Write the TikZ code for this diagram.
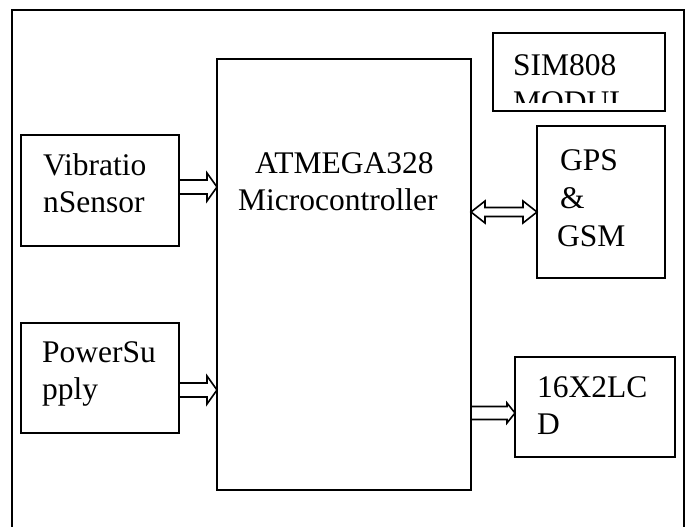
\documentclass[tikz,border=0pt]{standalone}
\usepackage{fontspec}
\setmainfont{Liberation Serif}
\usetikzlibrary{calc}
\newcommand{\myrarrow}[5]{\draw[blk] let \p1=(#1), \p2=(#2) in (\x1,\y1+#3) -- (\x2-#5,\y1+#3) -- (\x2-#5,\y1+#4) -- (\x2,\y1) -- (\x2-#5,\y1-#4) -- (\x2-#5,\y1-#3) -- (\x1,\y1-#3);}
\newcommand{\mydarrow}[5]{\draw[blk] let \p1=(#1), \p2=(#2) in (\x1,\y1) -- (\x1+#5,\y1+#4) -- (\x1+#5,\y1+#3) -- (\x2-#5,\y1+#3) -- (\x2-#5,\y1+#4) -- (\x2,\y1) -- (\x2-#5,\y1-#4) -- (\x2-#5,\y1-#3) -- (\x1+#5,\y1-#3) -- (\x1+#5,\y1-#4) -- cycle;}
\begin{document}
\begin{tikzpicture}[x=1pt,y=-1pt,
  box/.style={draw, line width=1.8pt, inner sep=0pt, outer sep=0pt, anchor=north west},
  txt/.style={anchor=base west, inner sep=0pt, font=\fontsize{31.5}{37}\selectfont},
  blk/.style={draw, line width=1.6pt, line join=miter}]
\useasboundingbox (0,0) rectangle (693,527);
\clip (0,0) rectangle (693,527);
% outer frame
\draw[line width=2.2pt] (12,560) -- (12,10) -- (684,10) -- (684,560);
% boxes
\node[box, minimum width=158pt, minimum height=111pt] (vib) at (21,135) {};
\node[box, minimum width=158pt, minimum height=110pt] (pwr) at (21,323) {};
\node[box, minimum width=254pt, minimum height=431pt] (mcu) at (217,59) {};
\node[box, minimum width=172pt, minimum height=78pt] (sim) at (493,33) {};
\node[box, minimum width=128pt, minimum height=152pt] (gps) at (537,126) {};
\node[box, minimum width=160pt, minimum height=100pt] (lcd) at (515,357) {};
% texts
\node[txt] (vibA) at (43,175) {Vibratio};
\node[txt] (vibB) at (43,212) {nSensor};
\node[txt] (pwrA) at (42,362) {PowerSu};
\node[txt] (pwrB) at (42,399) {pply};
\node[txt] (mcuA) at (255,173) {ATMEGA328};
\node[txt] (mcuB) at (238,210) {Microcontroller};
\node[txt] (simA) at (513,75) {SIM808};
\begin{scope}
  \clip (493,33) rectangle (665,102);
  \node[txt] (simB) at (513,112) {MODUL};
\end{scope}
\node[txt] (gpsA) at (560,170) {GPS};
\node[txt] (gpsB) at (560,208) {\&};
\node[txt] (gpsC) at (557,246) {GSM};
\node[txt] (lcdA) at (537,397) {16X2LC};
\node[txt] (lcdB) at (537,434) {D};
% connectors
\coordinate (v1) at (vib.east |- 0,187);
\coordinate (v2) at (mcu.west |- 0,187);
\myrarrow{v1}{v2}{7pt}{14pt}{10pt}
\coordinate (p1) at (pwr.east |- 0,390);
\coordinate (p2) at (mcu.west |- 0,390);
\myrarrow{p1}{p2}{7pt}{14pt}{10pt}
\coordinate (g1) at (mcu.east |- 0,212);
\coordinate (g2) at (gps.west |- 0,212);
\mydarrow{g1}{g2}{4.5pt}{11pt}{14pt}
\coordinate (l1) at (mcu.east |- 0,413);
\coordinate (l2) at (lcd.west |- 0,413);
\myrarrow{l1}{l2}{6.5pt}{10pt}{8pt}
\end{tikzpicture}
\end{document}
